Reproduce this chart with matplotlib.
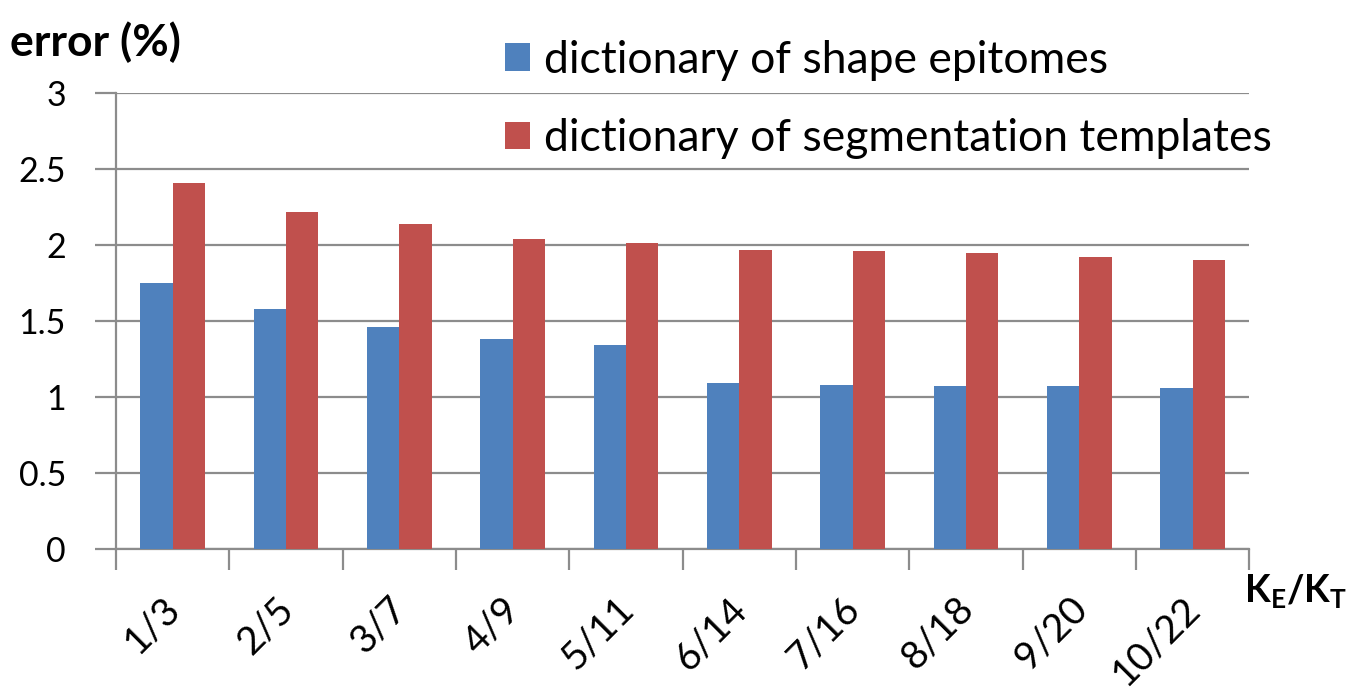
import matplotlib
matplotlib.use("Agg")
import matplotlib.pyplot as plt
import matplotlib.transforms as mtransforms
import numpy as np

categories = ["1/3", "2/5", "3/7", "4/9", "5/11", "6/14", "7/16", "8/18", "9/20", "10/22"]
shape_epitomes = [1.75, 1.58, 1.46, 1.38, 1.34, 1.09, 1.08, 1.07, 1.07, 1.06]
segmentation_templates = [2.41, 2.22, 2.14, 2.04, 2.01, 1.97, 1.96, 1.95, 1.92, 1.90]
series_labels = ["dictionary of shape epitomes", "dictionary of segmentation templates"]
y_ticks = [0, 0.5, 1, 1.5, 2, 2.5, 3]
y_tick_labels = ["0", "0.5", "1", "1.5", "2", "2.5", "3"]

plt.rcParams["font.family"] = ["Lato", "DejaVu Sans"]

fig = plt.figure(figsize=(13.64, 6.94), dpi=100)
ax = fig.add_axes([0.085, 0.209, 0.831, 0.657])

x = np.arange(len(categories))
w = 0.285
b1 = ax.bar(x - w / 2, shape_epitomes, w, color="#4F81BD", label=series_labels[0], zorder=3)
b2 = ax.bar(x + w / 2, segmentation_templates, w, color="#C0504D", label=series_labels[1], zorder=3)

ax.set_xlim(-0.5, len(categories) - 0.5)
ax.set_ylim(0, 3)
ax.set_yticks(y_ticks)
ax.set_yticklabels(y_tick_labels, fontsize=24.5)
ax.yaxis.grid(True, color="#8c8c8c", linewidth=1.6, zorder=0)

# category boundary ticks on the x axis, labels centred between them
ax.set_xticks(np.arange(len(categories) + 1) - 0.5)
ax.set_xticklabels([])
ax.set_xticks(x, minor=True)
ax.set_xticklabels(categories, minor=True, rotation=45, fontsize=28, ha="right",
                   rotation_mode="anchor")
ax.tick_params(axis="x", which="minor", length=0, pad=30)
ax.tick_params(axis="x", which="major", length=15, width=1.6, color="#8c8c8c")
ax.tick_params(axis="y", length=15, width=1.6, color="#8c8c8c", pad=21)

shift = mtransforms.ScaledTranslation(-0.11, 0, fig.dpi_scale_trans)
for lab in ax.get_xticklabels(minor=True):
    lab.set_transform(lab.get_transform() + shift)

for side in ["top", "right"]:
    ax.spines[side].set_visible(False)
for side in ["left", "bottom"]:
    ax.spines[side].set_color("#8c8c8c")
    ax.spines[side].set_linewidth(1.6)

fig.text(0.007, 0.939, "error (%)", fontsize=32, fontweight="bold", va="center", ha="left")
fig.text(0.912, 0.147, r"K$_\mathregular{E}$/K$_\mathregular{T}$", fontsize=27,
         fontweight="bold", va="center", ha="left")

leg = fig.legend(handles=[b1, b2], loc="upper left", bbox_to_anchor=(0.370, 0.943),
                 frameon=False, fontsize=32, handlelength=0.58, handleheight=0.58,
                 handletextpad=0.3, labelspacing=0.85, borderpad=0, borderaxespad=0)

fig.savefig("out.png", dpi=100, facecolor="white")
